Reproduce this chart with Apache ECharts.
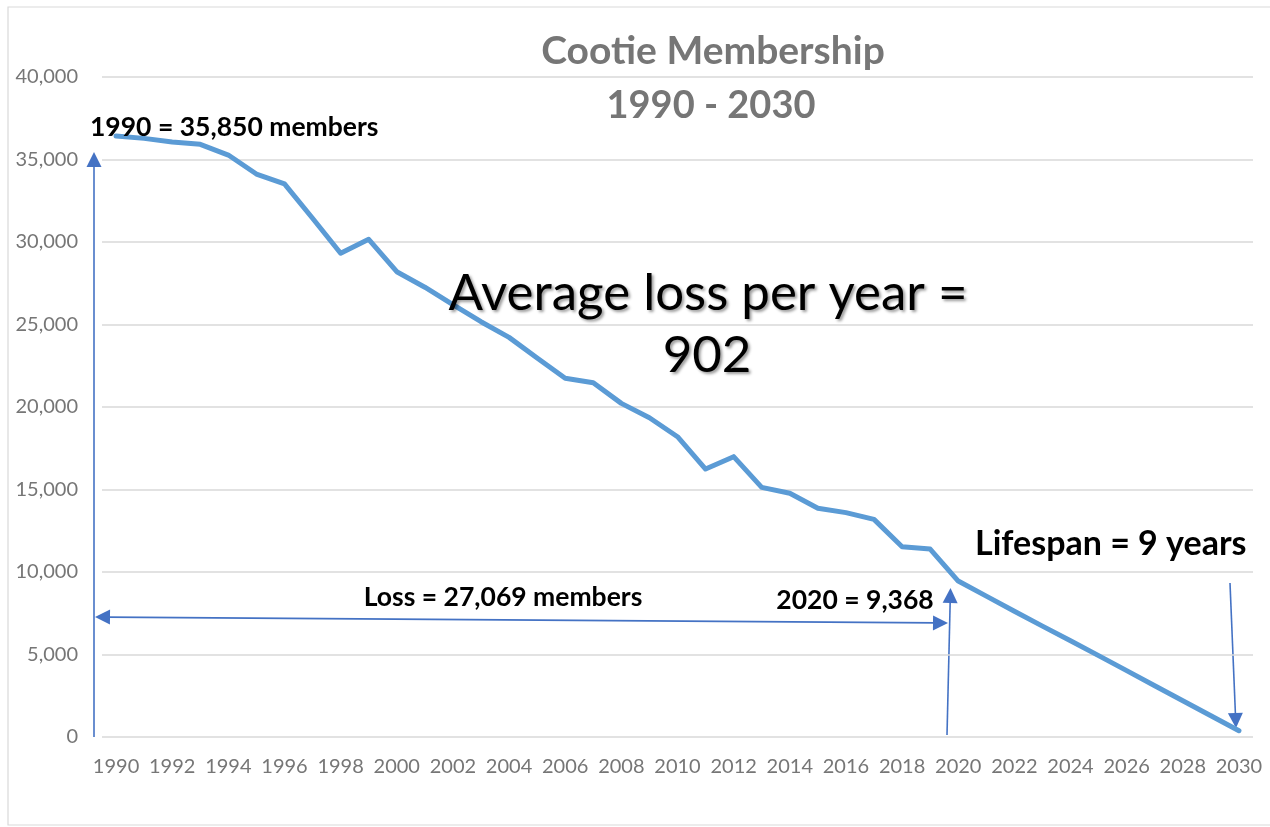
<!DOCTYPE html>
<html>
<head>
<meta charset="utf-8">
<script src="https://cdn.jsdelivr.net/npm/echarts@6/dist/echarts.min.js"></script>
<style>
html,body{margin:0;padding:0;background:#fff;}
#chart{width:1270px;height:827px;}
</style>
</head>
<body>
<div id="chart"></div>
<script>
// ---- data ----
var years = ['1990','1991','1992','1993','1994','1995','1996','1997','1998','1999',
             '2000','2001','2002','2003','2004','2005','2006','2007','2008','2009',
             '2010','2011','2012','2013','2014','2015','2016','2017','2018','2019',
             '2020','2021','2022','2023','2024','2025','2026','2027','2028','2029','2030'];
var members = [36420, 36280, 36060, 35920, 35270, 34120, 33520, 31440, 29320, 30160,
               28200, 27260, 26200, 25170, 24220, 22970, 21740, 21470, 20220, 19350,
               18200, 16240, 16990, 15130, 14770, 13860, 13600, 13190, 11530, 11390,
               9450, 8540, 7620, 6720, 5830, 4930, 4020, 3110, 2200, 1290, 380];
var titleLines = ['Cootie Membership', '1990 - 2030'];
var notes = {
  start: '1990 = 35,850 members',
  loss: 'Loss = 27,069 members',
  end2020: '2020 = 9,368',
  lifespan: 'Lifespan = 9 years',
  avg1: 'Average loss per year =',
  avg2: '902'
};

var FONT = 'Lato, "Open Sans", "Noto Sans", sans-serif';
var ARROW = '#4472C4';

function arrow(x1, y1, x2, y2, both) {
  var els = [];
  var dx = x2 - x1, dy = y2 - y1, len = Math.sqrt(dx*dx + dy*dy);
  var ux = dx/len, uy = dy/len, px = -uy, py = ux;
  var hl = 15, hw = 7.5;
  function head(tx, ty, dirx, diry) {
    var bx = tx - dirx*hl, by = ty - diry*hl;
    return {type:'polygon', shape:{points:[[tx,ty],[bx+px*hw,by+py*hw],[bx-px*hw,by-py*hw]]},
            style:{fill:ARROW}};
  }
  var sx = both ? x1 + ux*hl*0.8 : x1, sy = both ? y1 + uy*hl*0.8 : y1;
  els.push({type:'line', shape:{x1:sx, y1:sy, x2:x2-ux*hl*0.8, y2:y2-uy*hl*0.8},
            style:{stroke:ARROW, lineWidth:1.6}});
  els.push(head(x2, y2, ux, uy));
  if (both) els.push(head(x1, y1, -ux, -uy));
  return els;
}

var graphics = [];
graphics.push({type:'rect', shape:{x:8, y:7, width:1300, height:818}, style:{fill:'none', stroke:'#d9d9d9', lineWidth:1.2}, silent:true});
graphics = graphics.concat(arrow(94, 737, 94, 152, false));
graphics = graphics.concat(arrow(95, 617, 948, 623, true));
graphics = graphics.concat(arrow(947, 735, 950.5, 588, false));
graphics = graphics.concat(arrow(1230, 583, 1236, 728, false));

function txt(t, x, y, size, opts) {
  var s = {text:t, x:x, y:y, fill:'#000', font:'bold ' + size + 'px ' + FONT,
           textAlign:'center', textVerticalAlign:'middle'};
  for (var k in opts) s[k] = opts[k];
  return {type:'text', z:100, style:s};
}
graphics.push(txt(titleLines[0], 713, 51, 39, {fill:'#767676'}));
graphics.push(txt(titleLines[1], 711, 106, 38, {fill:'#767676'}));
graphics.push(txt(notes.start, 90, 127, 26.5, {textAlign:'left'}));
graphics.push(txt(notes.loss, 503, 597, 26.5, {}));
graphics.push(txt(notes.end2020, 855, 600, 26.5, {}));
graphics.push(txt(notes.lifespan, 975, 544, 34, {textAlign:'left'}));
graphics.push(txt(notes.avg1, 708, 294, 51, {font:'51px ' + FONT, textShadowColor:'rgba(0,0,0,0.4)', textShadowBlur:3, textShadowOffsetX:2, textShadowOffsetY:2}));
graphics.push(txt(notes.avg2, 707, 356, 51, {font:'51px ' + FONT, textShadowColor:'rgba(0,0,0,0.4)', textShadowBlur:3, textShadowOffsetX:2, textShadowOffsetY:2}));

var chart = echarts.init(document.getElementById('chart'), null, {renderer:'canvas'});
chart.setOption({
  backgroundColor:'#fff',
  animation:false,
  grid:{left:102, right:17, top:77, bottom:90, containLabel:false},
  xAxis:{
    type:'category', data:years, boundaryGap:true,
    axisLine:{show:false}, axisTick:{show:false},
    axisLabel:{interval:1, color:'#767676', fontFamily:FONT, fontSize:20, margin:20}
  },
  yAxis:{
    type:'value', min:0, max:40000, interval:5000,
    axisLine:{show:false}, axisTick:{show:false},
    splitLine:{lineStyle:{color:'#d9d9d9', width:1.5}},
    axisLabel:{color:'#767676', fontFamily:FONT, fontSize:20, margin:24,
      formatter:function(v){return v.toLocaleString('en-US');}}
  },
  series:[{
    type:'line', data:members, showSymbol:false, symbol:'none', smooth:false,
    lineStyle:{color:'#5B9BD5', width:5, cap:'round', join:'round'}
  }],
  graphic:graphics
});
</script>
</body>
</html>
